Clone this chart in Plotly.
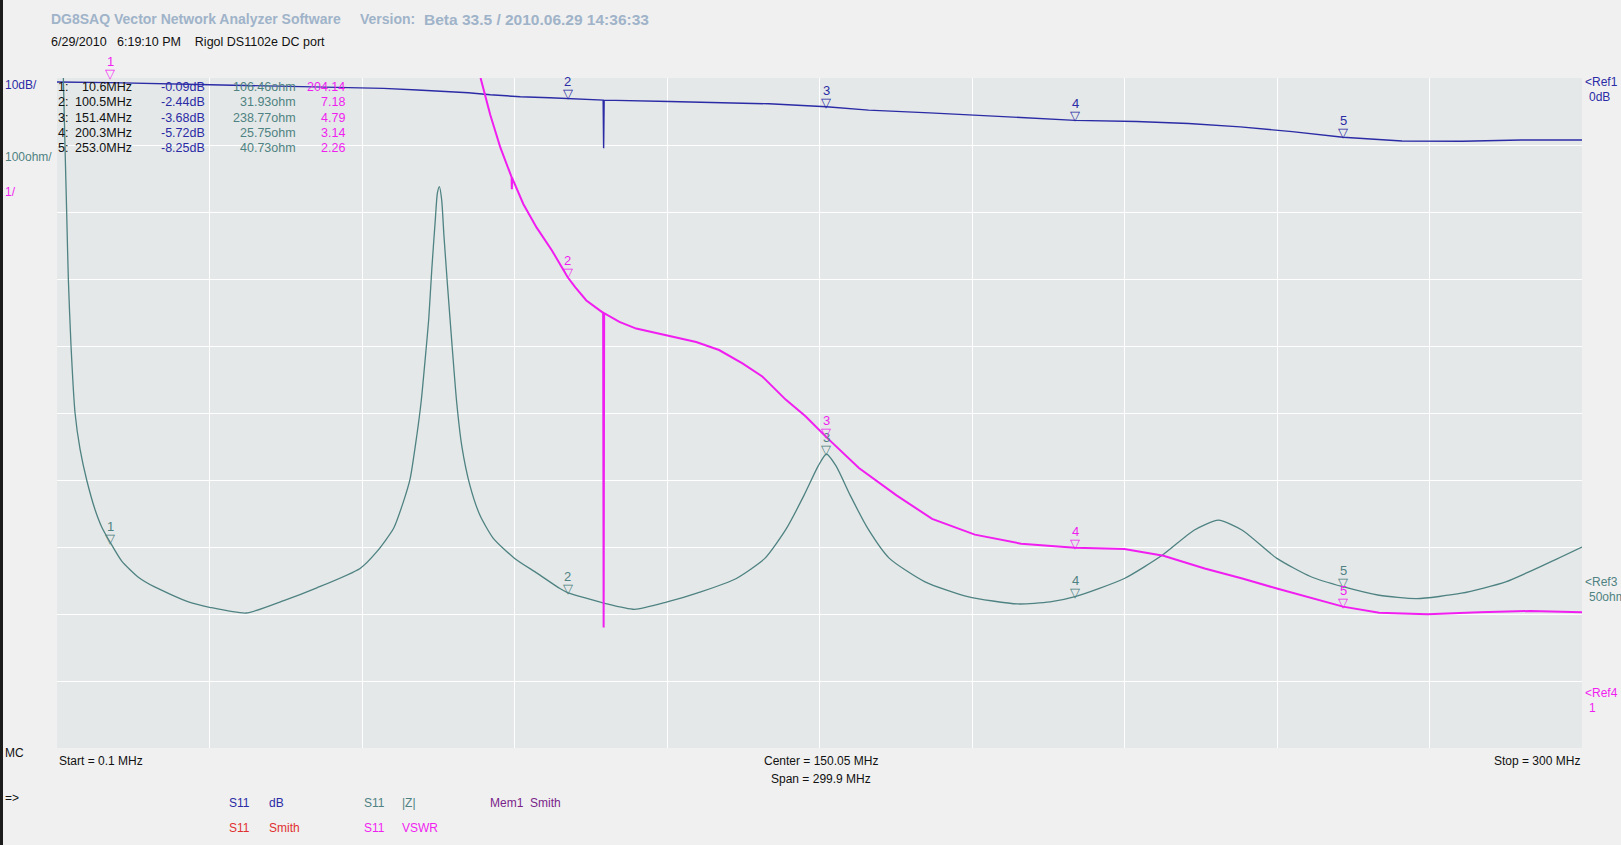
import plotly.graph_objects as go

# sweep 0.1 .. 300 MHz over 10 divisions
f_start = 0.1
f_stop = 300.0

# S11 dB trace (blue), 10 dB/div
db_freq = [0.1, 10.6, 30.2, 64.3, 71.0, 81.0, 85.3, 91.2, 97.0, 100.5,
           107.5, 107.6, 107.7, 120.5, 133.5, 140.1, 151.4, 159.7, 171.7, 181.9,
           192.1, 200.3, 212.4, 222.6, 232.8, 243.0, 253.0, 260.2, 264.6, 276.5,
           288.0, 300.0]
db_val = [0.0, -0.09, -0.4, -0.95, -1.2, -1.6, -1.9, -2.2, -2.35, -2.44,
          -2.7, -9.9, -2.7, -2.9, -3.1, -3.25, -3.68, -4.2, -4.6, -5.0,
          -5.45, -5.72, -5.9, -6.2, -6.7, -7.4, -8.25, -8.6, -8.8, -8.85,
          -8.65, -8.65]

# S11 |Z| trace (teal), 100 ohm/div
z_freq = [1.35, 1.67, 2.0, 2.33, 2.86, 3.65, 4.63, 5.94, 7.57, 8.89,
          10.6, 12.83, 16.1, 19.4, 25.95, 30.1, 37.3, 44.7, 51.2, 59.7,
          63.0, 66.3, 68.2, 69.55, 70.85, 71.7, 72.5, 73.2, 73.8, 74.5,
          74.9, 75.3, 75.75, 76.2, 76.9, 77.75, 78.7, 79.7, 81.3, 83.3,
          85.9, 90.1, 94.5, 99.0, 100.5, 107.8, 113.7, 120.1, 126.7, 133.7,
          139.3, 143.5, 147.0, 149.8, 151.4, 153.3, 156.1, 159.6, 163.8, 170.8,
          179.2, 189.0, 195.4, 200.3, 210.0, 217.5, 223.7, 228.5, 233.2, 240.0,
          246.6, 253.0, 260.1, 267.5, 276.3, 285.0, 293.3, 300.0]
z_ohm = [800, 700, 600, 500, 400, 300, 246, 200, 156, 130,
         106.5, 79, 55, 40, 18, 10, 1.5, 20, 39, 68,
         93, 128, 167, 202, 266, 316, 380, 440, 514, 589,
         628, 638, 618, 564, 490, 405, 316, 251, 192, 147,
         113, 83, 61, 38, 32, 16, 7, 18, 33, 53,
         83, 127, 177, 221, 238.8, 221, 177, 127, 83, 48,
         26, 15, 18, 25.8, 53, 88, 125, 140, 125, 83,
         56, 40.7, 28, 23, 31, 48, 76, 100]

# S11 VSWR trace (magenta), 1/div
vswr_freq = [83.4, 85.3, 87.3, 89.5, 89.55, 89.6, 91.8, 94.4, 97.4, 100.5,
             102.0, 104.2, 107.5, 107.6, 107.7, 110.7, 114.0, 120.1, 125.8, 130.3,
             134.9, 138.8, 143.4, 147.3, 151.4, 157.8, 165.2, 172.2, 180.6, 189.7,
             195.4, 200.3, 210.0, 217.7, 225.8, 233.2, 240.0, 246.6, 253.0, 260.1,
             269.6, 279.8, 289.8, 300.0]
vswr_val = [10.15, 9.6, 9.11, 8.67, 8.49, 8.66, 8.27, 7.92, 7.58, 7.18,
            7.03, 6.83, 6.645, 1.95, 6.64, 6.51, 6.41, 6.31, 6.21, 6.09,
            5.89, 5.695, 5.35, 5.10, 4.79, 4.33, 3.92, 3.57, 3.335, 3.20,
            3.165, 3.14, 3.12, 3.02, 2.83, 2.68, 2.53, 2.394, 2.26, 2.17,
            2.145, 2.175, 2.195, 2.175]

# marker readout
mk_freq = [10.6, 100.5, 151.4, 200.3, 253.0]
mk_db = [-0.09, -2.44, -3.68, -5.72, -8.25]
mk_ohm = [106.46, 31.93, 238.77, 25.75, 40.73]
mk_vswr = [204.14, 7.18, 4.79, 3.14, 2.26]

db_range = [-99.4, 0.6]
z_range = [-200, 800]
vswr_range = [0.15, 10.15]

W, H = 1621, 845
ML, MR, MT, MB = 57, 39, 78, 97
PW = W - ML - MR
PH = H - MT - MB

FONT = "Liberation Sans, Arial, sans-serif"
BLUE = "#2b2ba6"
TEAL = "#4f8282"
MAGENTA = "#f01ef0"
TITLE = "#9fb3c9"
SP = "&nbsp;"

annotations = []


def label(x, y, text, color="#111111", size=12, xanchor="left"):
    # x, y in screen pixels
    annotations.append(dict(
        xref="paper", yref="paper",
        x=(x - ML) / PW, y=1 - (y - MT) / PH,
        text=text, showarrow=False, xanchor=xanchor, yanchor="middle",
        font=dict(family=FONT, size=size, color=color),
    ))


def marker_flags(freqs, vals, yref, color, nums, top):
    for f, v, n in zip(freqs, vals, nums):
        v = min(v, top)
        annotations.append(dict(
            xref="x", yref=yref, x=f, y=v, text="▽", showarrow=False,
            xanchor="center", yanchor="bottom", yshift=-5,
            font=dict(family="DejaVu Sans", size=13, color=color),
        ))
        annotations.append(dict(
            xref="x", yref=yref, x=f, y=v, text=str(n), showarrow=False,
            xanchor="center", yanchor="bottom", yshift=7,
            font=dict(family=FONT, size=13, color=color),
        ))


fig = go.Figure()

fig.add_trace(go.Scatter(x=db_freq, y=db_val, mode="lines", yaxis="y",
                         line=dict(color=BLUE, width=1.4)))
fig.add_trace(go.Scatter(x=z_freq, y=z_ohm, mode="lines", yaxis="y2",
                         line=dict(color=TEAL, width=1.3, shape="spline", smoothing=0.6)))
fig.add_trace(go.Scatter(x=vswr_freq, y=vswr_val, mode="lines", yaxis="y3",
                         line=dict(color=MAGENTA, width=2.0)))

marker_flags(mk_freq[1:], mk_db[1:], "y", BLUE, range(2, 6), db_range[1])
marker_flags(mk_freq, mk_ohm, "y2", TEAL, range(1, 6), z_range[1])
marker_flags(mk_freq, mk_vswr, "y3", MAGENTA, range(1, 6), vswr_range[1])

# header
label(49, 19, "<b>DG8SAQ Vector Network Analyzer Software</b>", TITLE, 14)
label(358, 19, "<b>Version:</b>", TITLE, 14)
label(422, 19, "<b>Beta 33.5 / 2010.06.29 14:36:33</b>", TITLE, 15.5)
label(49, 42, "6/29/2010" + SP * 3 + "6:19:10 PM" + SP * 4 + "Rigol DS1102e DC port",
      "#111111", 12.5)

# scale labels on the left
label(3, 85, "10dB/", BLUE, 12)
label(3, 157, "100ohm/", TEAL, 12)
label(3, 192, "1/", MAGENTA, 12)
label(3, 753, "MC", "#111111", 12)

# reference labels on the right
label(1583, 82, "&lt;Ref1", BLUE, 12)
label(1587, 97, "0dB", BLUE, 12)
label(1583, 582, "&lt;Ref3", TEAL, 12)
label(1587, 597, "50ohm", TEAL, 12)
label(1583, 693, "&lt;Ref4", MAGENTA, 12)
label(1587, 708, "1", MAGENTA, 12)

# marker table
for i, f in enumerate(mk_freq):
    y = 87 + i * 15.3
    label(56, y, f"{i + 1}:", "#111111", 12.5)
    label(134, y, f"{f:.1f}MHz", "#111111", 12.5, "right")
    label(207, y, f"{mk_db[i]:.2f}dB", BLUE, 12.5, "right")
    label(298, y, f"{mk_ohm[i]:.2f}ohm", TEAL, 12.5, "right")
    label(347, y, f"{mk_vswr[i]:.2f}", MAGENTA, 12.5, "right")

# sweep info
label(57, 761, f"Start = {f_start:g} MHz", "#111111", 12)
label(821, 761, f"Center = {(f_start + f_stop) / 2:.2f} MHz", "#111111", 12, "center")
label(821, 779, f"Span = {f_stop - f_start:.1f} MHz", "#111111", 12, "center")
label(1582, 761, f"Stop = {f_stop:g} MHz", "#111111", 12, "right")

# trace legend
label(3, 798, "=&gt;", "#111111", 12)
label(227, 803, "S11", BLUE, 12)
label(267, 803, "dB", BLUE, 12)
label(362, 803, "S11", TEAL, 12)
label(400, 803, "|Z|", TEAL, 12)
label(488, 803, "Mem1" + SP * 2 + "Smith", "#7a1f8a", 12)
label(227, 828, "S11", "#e03030", 12)
label(267, 828, "Smith", "#e03030", 12)
label(362, 828, "S11", MAGENTA, 12)
label(400, 828, "VSWR", MAGENTA, 12)

fig.update_layout(
    width=W, height=H,
    margin=dict(l=ML, r=MR, t=MT, b=MB),
    paper_bgcolor="#f0f0f0",
    plot_bgcolor="#e4e8e8",
    showlegend=False,
    annotations=annotations,
    shapes=[dict(type="rect", xref="paper", yref="paper",
                 x0=-ML / PW, x1=(3 - ML) / PW, y0=-MB / PH, y1=1 + MT / PH,
                 line=dict(width=0), fillcolor="#1c1c1c")],
    xaxis=dict(range=[f_start, f_stop], tick0=f_start, dtick=(f_stop - f_start) / 10,
               showgrid=True, gridcolor="white", gridwidth=1, zeroline=False,
               showticklabels=False, ticks="", showline=False),
    yaxis=dict(range=db_range, tick0=db_range[1], dtick=10, showgrid=True,
               gridcolor="white", gridwidth=1, zeroline=False, showticklabels=False,
               ticks=""),
    yaxis2=dict(range=z_range, overlaying="y", showgrid=False, zeroline=False,
                showticklabels=False, ticks=""),
    yaxis3=dict(range=vswr_range, overlaying="y", showgrid=False, zeroline=False,
                showticklabels=False, ticks=""),
)

fig.write_html("out.html", config={"displayModeBar": False},
               post_script="document.body.style.margin='0px';"
                           "document.body.style.overflow='hidden';")
